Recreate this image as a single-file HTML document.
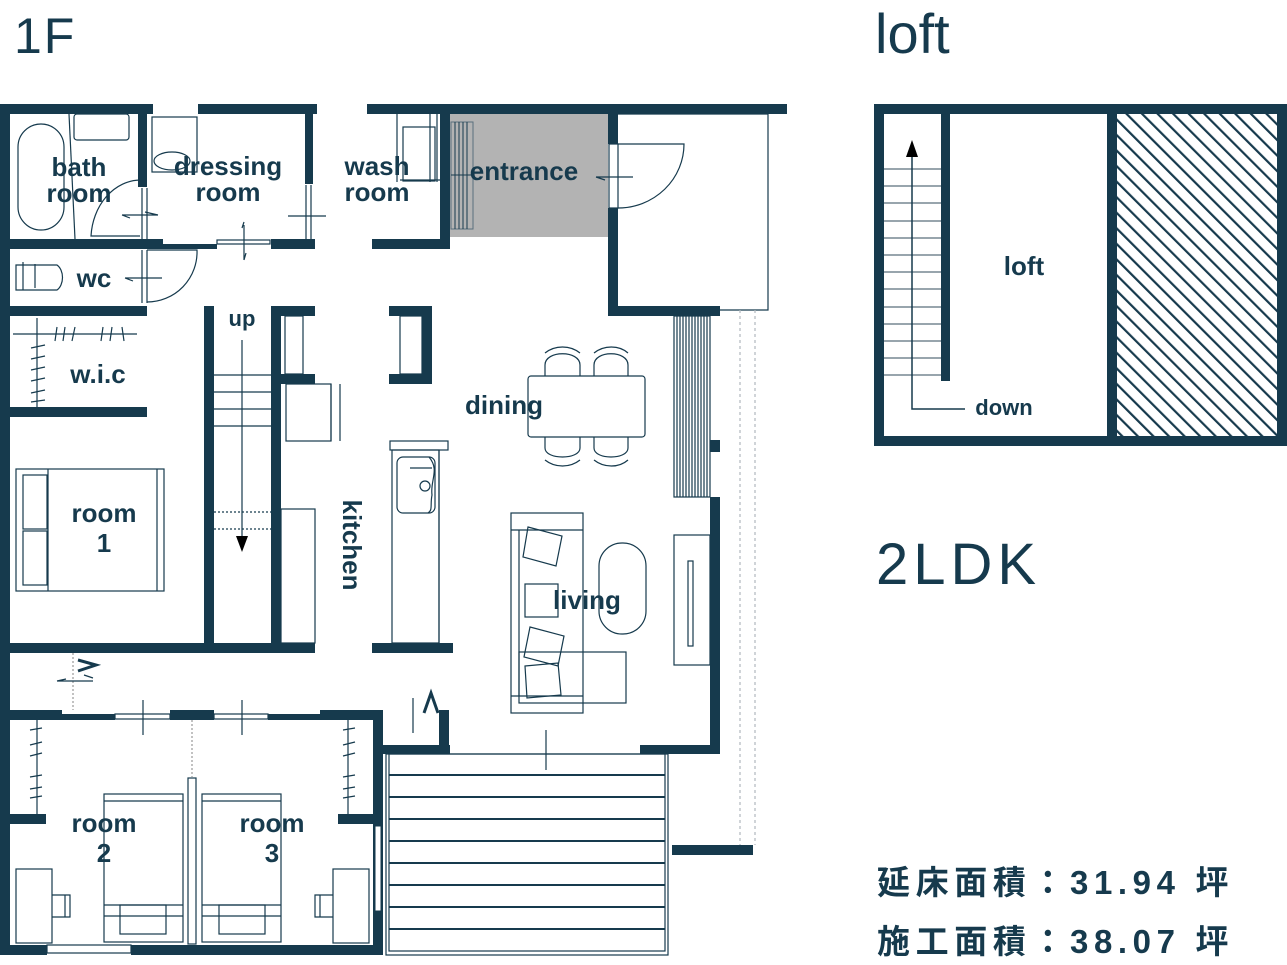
<!DOCTYPE html>
<html><head><meta charset="utf-8"><style>
html,body{margin:0;padding:0;background:#fff;}
svg{display:block;}
.lbl{font-family:"Liberation Sans",sans-serif;font-weight:bold;font-size:26px;fill:#163a4d;text-anchor:middle;}
</style></head><body>
<svg width="1287" height="965" viewBox="0 0 1287 965" xmlns="http://www.w3.org/2000/svg">
<defs>
<pattern id="h" patternUnits="userSpaceOnUse" width="11" height="11" patternTransform="rotate(-45)">
<rect width="11" height="11" fill="#fff"/><rect x="0" y="0" width="2.2" height="11" fill="#163a4d"/>
</pattern>
</defs>
<g fill="#163a4d" font-family="Liberation Sans, sans-serif">
<text x="14" y="53" font-size="50" letter-spacing="2">1F</text>
<text x="875" y="53" font-size="56">loft</text>
<text x="876" y="584" font-size="58" letter-spacing="5">2LDK</text>
<text x="877" y="894" font-family="Liberation Sans, 'Noto Sans CJK JP', sans-serif" font-weight="bold" font-size="33" letter-spacing="5.6">延床面積：31.94 坪</text>
<text x="877" y="953" font-family="Liberation Sans, 'Noto Sans CJK JP', sans-serif" font-weight="bold" font-size="33" letter-spacing="5.6">施工面積：38.07 坪</text>
</g>

<rect x="450" y="114" width="158" height="123" fill="#b3b3b3"/>
<g stroke="#163a4d" stroke-width="1" fill="none">
<rect x="451" y="122" width="22" height="107" stroke="#5a6f7c"/>
<path d="M455 122V229M459 122V229M463 122V229M467 122V229M451 175H473"/>
</g>

<g stroke="#163a4d" stroke-width="1.2" fill="none">
<rect x="18" y="124" width="46" height="106" rx="23"/>
<rect x="74" y="114" width="55" height="26" rx="3"/>
<path d="M69 114L75 239"/>
<path d="M140 180A50 60 0 0 0 91 236H140"/>
<path d="M122 215H158M145 212L158 215M122 215L130 218"/>
<rect x="152" y="117" width="45" height="55"/>
<ellipse cx="172" cy="161" rx="18" ry="9"/>
<path d="M142 188V239M147 188V239"/>
<path d="M288 216H326M306 185V239M311 185V239"/>
<path d="M244 225V260M242 228L244 222M244 260L246 253"/>
<rect x="217" y="240" width="53" height="4"/>
<rect x="403" y="127" width="32" height="54"/>
<path d="M397 114V182M430 114V182M437 114V182M400 180H440"/>
<path d="M16 265H57A10 14 0 0 1 57 290H16Z"/>
<path d="M23 262V290M35 264V288"/>
<path d="M142 250V303M147 250V303M147 250H197A50 50 0 0 1 147 302"/>
<path d="M125 278H162M125 278L133 281"/>
<path d="M13 334H137M37 318V407"/>
<path d="M57 327L55 341M65 327L63 341M75 327L72 341M103 327L101 341M112 327L110 341M122 327L124 341"/>
<path d="M31 348L45 345M31 359L45 356M31 370L45 367M31 381L45 378M31 393L45 390M31 402L45 400"/>
<rect x="16" y="469" width="148" height="122"/>
<rect x="23" y="475" width="24" height="54"/>
<rect x="23" y="531" width="24" height="54"/>
<path d="M48 469V591M157 469V591"/>
<path d="M214 375H271M214 392H271M214 409H271M214 426H271"/>
<path d="M214 512H271M214 529H271" stroke-dasharray="2 2"/>
<path d="M242 340V540"/>
<rect x="285" y="316" width="18" height="58"/>
<rect x="286" y="384" width="45" height="57"/>
<path d="M331 384V441M340 384V441"/>
<rect x="281" y="509" width="34" height="134"/>
<rect x="400" y="316" width="22" height="58"/>
<rect x="390" y="441" width="58" height="9"/>
<rect x="392" y="450" width="47" height="193"/>
<path d="M439 450V643"/>
<rect x="397" y="457" width="38" height="56" rx="6"/>
<path d="M410 468H432M429 457C440 470 430 480 432 495C430 505 433 510 428 513"/>
<circle cx="425" cy="486" r="5"/>
<rect x="528" y="376" width="117" height="61" rx="3"/>
<path d="M545 376V365C545 350 580 350 580 365V376M594 376V365C594 350 628 350 628 365V376"/>
<path d="M545 353C555 345 570 345 580 353M594 353C604 345 619 345 628 353"/>
<path d="M545 437V448C545 460 580 460 580 448V437M594 437V448C594 460 628 460 628 448V437"/>
<path d="M545 460C555 468 570 468 580 460M594 460C604 468 619 468 628 460"/>
<rect x="674" y="316" width="36" height="181"/>
<path d="M677 316V497M680 316V497M683 316V497M686 316V497M689 316V497M692 316V497M695 316V497M698 316V497M701 316V497M704 316V497M707 316V497"/>
<rect x="511" y="513" width="72" height="200"/>
<path d="M511 530H583M511 696H583M519 530V696"/>
<rect x="519" y="652" width="107" height="51"/>
<path d="M528 527L562 536L556 566L523 557Z"/>
<rect x="525" y="584" width="33" height="33"/>
<path d="M530 627L564 636L558 666L524 657Z"/>
<path d="M525 666L558 663L561 695L527 698Z"/>
<rect x="599" y="543" width="47" height="91" rx="23"/>
<rect x="674" y="535" width="36" height="130"/>
<rect x="688" y="561" width="5" height="85"/>
<rect x="609" y="144" width="9" height="64" fill="#fff"/>
<path d="M618 144H684A66 64 0 0 1 618 208"/>
<path d="M596 177H633M596 177L605 180"/>
<path d="M618 114H768V310H618"/>
<path d="M740 310V845M755 310V845" stroke="#b0b8bd" stroke-dasharray="3 3"/>
<path d="M73 653V710" stroke-dasharray="2 2" stroke="#999"/>
<path d="M57 681H93M57 681L66 679M93 678L84 675"/>
<path d="M78 660L96 665L78 671" stroke-width="3"/>
<path d="M143 700V735M242 700V735M413 698V733"/>
<path d="M424 713L431 693L438 713" stroke-width="3"/>
<path d="M546 730V770"/>
<rect x="115" y="714" width="55" height="5"/>
<rect x="214" y="714" width="54" height="5"/>
<path d="M192 720V777" stroke-dasharray="2 2" stroke="#999"/>
<rect x="188" y="778" width="8" height="166"/>
<path d="M37 720V814M348 720V814"/>
<path d="M30 730L42 728M30 745L42 742M30 756L42 753M30 777L42 775M30 789L42 787M30 798L42 796"/>
<path d="M343 730L355 728M343 745L355 742M343 756L355 753M343 777L355 775M343 789L355 787M343 798L355 796"/>
<rect x="104" y="794" width="79" height="148"/>
<path d="M104 801H183M104 905H183M104 916H183"/>
<rect x="120" y="905" width="46" height="29"/>
<rect x="202" y="794" width="79" height="148"/>
<path d="M202 801H281M202 905H281M202 916H281"/>
<rect x="219" y="905" width="46" height="29"/>
<rect x="16" y="869" width="36" height="74"/>
<path d="M52 895H70V917H52M65 895V917"/>
<rect x="333" y="869" width="36" height="74"/>
<path d="M333 895H315V917H333M320 895V917"/>
<rect x="47" y="945" width="84" height="8" fill="#fff"/>
<rect x="386" y="754" width="282" height="201"/>
<rect x="389" y="754" width="276" height="197"/>
</g>
<g stroke="#163a4d" stroke-width="2">
<path d="M389 775H665M389 797H665M389 819H665M389 841H665M389 863H665M389 885H665M389 907H665M389 929H665"/>
</g>
<path d="M242 552L236 536H248Z" fill="#000"/>

<g fill="#163a4d">
<rect x="0" y="104" width="153" height="10"/>
<rect x="198" y="104" width="119" height="10"/>
<rect x="367" y="104" width="420" height="10"/>
<rect x="0" y="104" width="10" height="851"/>
<rect x="138" y="114" width="9" height="73"/>
<rect x="305" y="114" width="8" height="70"/>
<rect x="440" y="104" width="10" height="145"/>
<rect x="0" y="239" width="163" height="10"/>
<rect x="163" y="244" width="54" height="5"/>
<rect x="271" y="239" width="44" height="10"/>
<rect x="372" y="239" width="78" height="10"/>
<rect x="0" y="306" width="147" height="10"/>
<rect x="0" y="407" width="147" height="10"/>
<rect x="204" y="306" width="10" height="347"/>
<rect x="271" y="306" width="10" height="347"/>
<rect x="271" y="306" width="44" height="10"/>
<rect x="271" y="374" width="44" height="10"/>
<rect x="389" y="306" width="43" height="10"/>
<rect x="422" y="306" width="10" height="78"/>
<rect x="389" y="374" width="43" height="10"/>
<rect x="0" y="643" width="315" height="10"/>
<rect x="372" y="643" width="81" height="10"/>
<rect x="608" y="114" width="10" height="30"/>
<rect x="608" y="208" width="10" height="108"/>
<rect x="608" y="306" width="112" height="10"/>
<rect x="710" y="440" width="10" height="12"/>
<rect x="710" y="497" width="10" height="257"/>
<rect x="0" y="710" width="62" height="10"/>
<rect x="62" y="714" width="53" height="6"/>
<rect x="170" y="710" width="44" height="10"/>
<rect x="268" y="714" width="52" height="6"/>
<rect x="320" y="710" width="63" height="10"/>
<rect x="373" y="710" width="10" height="245"/>
<rect x="439" y="710" width="10" height="40"/>
<rect x="373" y="745" width="77" height="9"/>
<rect x="640" y="745" width="80" height="9"/>
<rect x="672" y="845" width="81" height="10"/>
<rect x="10" y="814" width="36" height="10"/>
<rect x="338" y="814" width="35" height="10"/>
<rect x="0" y="945" width="47" height="10"/>
<rect x="131" y="945" width="252" height="10"/>
<rect x="874" y="104" width="413" height="10"/>
<rect x="874" y="436" width="413" height="10"/>
<rect x="874" y="104" width="10" height="342"/>
<rect x="1277" y="104" width="10" height="342"/>
<rect x="941" y="114" width="9" height="267"/>
<rect x="1107" y="114" width="10" height="322"/>
</g>
<rect x="375" y="826" width="6" height="85" fill="#fff" stroke="#163a4d" stroke-width="1"/>
<rect x="1117" y="114" width="160" height="322" fill="url(#h)"/>
<g stroke="#5a6f7c" stroke-width="1.2">
<path d="M884 169H941M884 186H941M884 203H941M884 221H941M884 238H941M884 255H941M884 272H941M884 289H941M884 307H941M884 324H941M884 341H941M884 358H941M884 375H941"/>
</g>
<path d="M912 155V409H965" stroke="#163a4d" stroke-width="1.5" fill="none"/>
<path d="M912 140L906 157H918Z" fill="#000"/>

<g class="lbl">
<text x="79" y="176">bath</text><text x="79" y="202">room</text>
<text x="228" y="175">dressing</text><text x="228" y="201">room</text>
<text x="377" y="175">wash</text><text x="377" y="201">room</text>
<text x="524" y="180">entrance</text>
<text x="94" y="287">wc</text>
<text x="242" y="326" font-size="22">up</text>
<text x="98" y="383">w.i.c</text>
<text x="504" y="414">dining</text>
<text x="104" y="522">room</text><text x="104" y="552">1</text>
<text x="587" y="609">living</text>
<text x="104" y="832">room</text><text x="104" y="862">2</text>
<text x="272" y="832">room</text><text x="272" y="862">3</text>
<text x="1024" y="275">loft</text>
<text x="1004" y="415" font-size="22">down</text>
<text transform="translate(343,545) rotate(90)">kitchen</text>
</g>
</svg>
</body></html>
